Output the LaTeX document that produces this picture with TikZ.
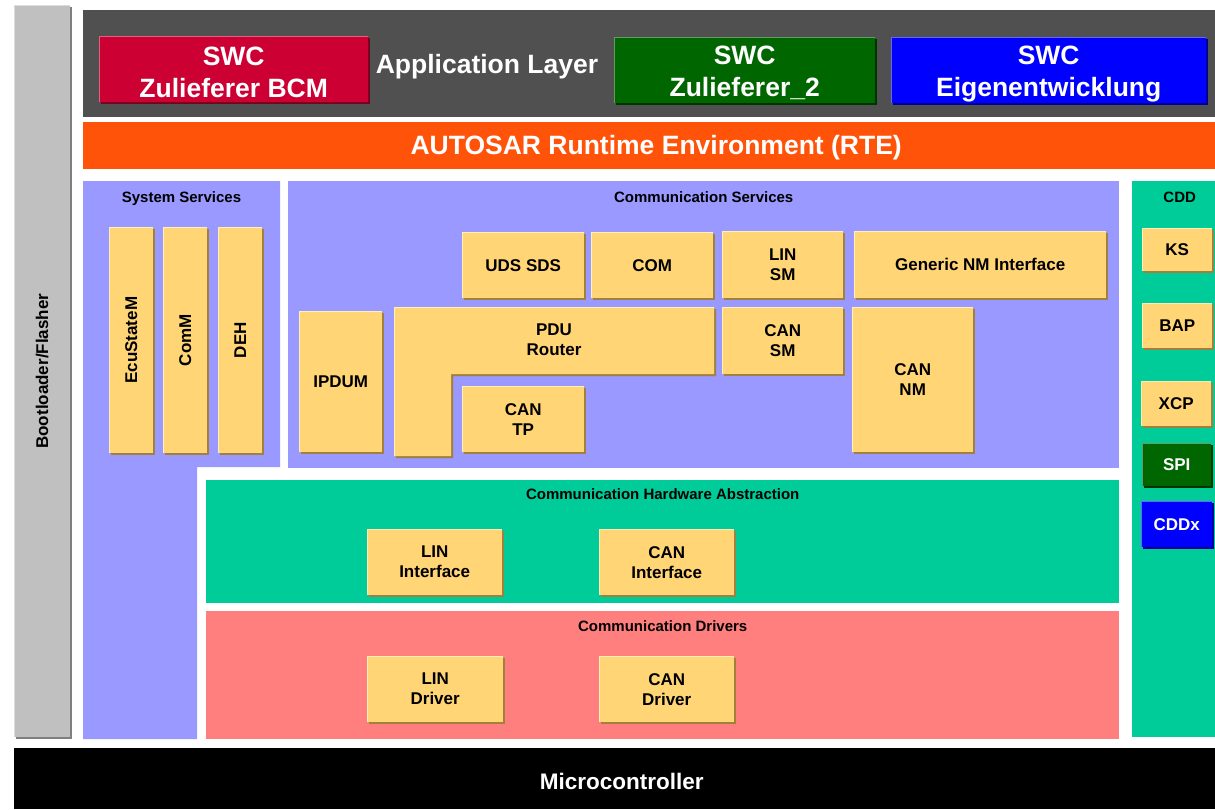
\documentclass[tikz,border=0pt]{standalone}
\usepackage{fontspec}
\setmainfont{Liberation Sans}
\usetikzlibrary{positioning, shadows}

\definecolor{appgray}{HTML}{505050}
\definecolor{bootgray}{HTML}{C0C0C0}
\definecolor{bootlight}{HTML}{DCDCDC}
\definecolor{bootdark}{HTML}{7F7F7F}
\definecolor{swcred}{HTML}{CC0033}
\definecolor{swcredlight}{HTML}{E0607F}
\definecolor{swcreddark}{HTML}{7A0020}
\definecolor{swcgreen}{HTML}{006600}
\definecolor{swcgreenlight}{HTML}{669966}
\definecolor{swcgreendark}{HTML}{003300}
\definecolor{swcblue}{HTML}{0000FF}
\definecolor{swcbluelight}{HTML}{6666FF}
\definecolor{swcbluedark}{HTML}{000099}
\definecolor{rteorange}{HTML}{FF530A}
\definecolor{servviolet}{HTML}{9999FF}
\definecolor{hwteal}{HTML}{00CC99}
\definecolor{drvred}{HTML}{FF7F7F}
\definecolor{modyellow}{HTML}{FFD576}
\definecolor{modlight}{HTML}{FFF0B8}
\definecolor{moddark}{HTML}{A0803C}

\newcommand{\bigsize}{\bfseries\fontsize{26.5}{32}\selectfont}
\newcommand{\modsize}{\bfseries\fontsize{17}{20}\selectfont}
\newcommand{\headsize}{\bfseries\fontsize{15}{18}\selectfont}
\newcommand{\microsize}{\bfseries\fontsize{22.5}{26}\selectfont}

\begin{document}
\begin{tikzpicture}[x=1pt, y=-1pt,
    raised/.style n args={3}{fill=#1,
      drop shadow={shadow xshift=2pt, shadow yshift=-2pt, fill=#3, opacity=1},
      path picture={\draw[#2, line width=2pt] (path picture bounding box.south west)
        -- (path picture bounding box.north west) -- (path picture bounding box.north east);}},
    layer/.style={inner sep=0pt, anchor=north west},
    module/.style={raised={modyellow}{modlight}{moddark}, font=\modsize, align=center,
      inner sep=0pt, anchor=north west},
    swc/.style={inner sep=0pt, anchor=north west},
    bigtext/.style={font=\bigsize, text=white, align=center, inner sep=0pt},
    header/.style={font=\headsize, inner sep=0pt}]

    \useasboundingbox (0,0) rectangle (1215,809);

    % Layers
    \node[layer, fill=appgray, minimum width=1132pt, minimum height=107pt] (applayer) at (83,10) {};
    \node[bigtext] (applabel) at (487,67) {Application Layer};
    \node[layer, fill=rteorange, minimum width=1132pt, minimum height=47pt] (rte) at (83,122) {};
    \node[bigtext] (rtelabel) at ([xshift=7pt, yshift=-2pt]rte.center) {AUTOSAR Runtime Environment (RTE)};
    \fill[servviolet] (83,181) -- (280,181) -- (280,467) -- (197,467) -- (197,739) -- (83,739) -- cycle;
    \coordinate (systop) at (181.5,181);
    \node[layer, fill=servviolet, minimum width=831pt, minimum height=287pt] (commserv) at (288,181) {};
    \node[layer, fill=hwteal, minimum width=83pt, minimum height=556pt] (cdd) at (1132,181) {};
    \node[layer, fill=hwteal, minimum width=913pt, minimum height=123pt] (commhw) at (206,480) {};
    \node[layer, fill=drvred, minimum width=913pt, minimum height=128pt] (commdrv) at (206,611) {};
    \node[layer, fill=black, minimum width=1201pt, minimum height=61pt] (micro) at (14,748) {};
    \node[font=\microsize, text=white, inner sep=0pt] (microlabel) at ([xshift=7pt, yshift=-3pt]micro.center) {Microcontroller};

    % Headers
    \node[header, below=10pt of systop] (syslabel) {System Services};
    \node[header, below=10pt of commserv.north] (commservlabel) {Communication Services};
    \node[header, below=11pt of cdd.north, xshift=6pt] (cddlabel) {CDD};
    \node[header, below=8pt of commhw.north] (commhwlabel) {Communication Hardware Abstraction};
    \node[header, below=9pt of commdrv.north] (commdrvlabel) {Communication Drivers};

    % Bootloader
    \node[raised={bootgray}{bootlight}{bootdark}, layer, minimum width=56pt, minimum height=732pt, font=\modsize] (boot) at (14,5) {\rotatebox{90}{Bootloader/Flasher}};

    % Software components
    \node[swc, raised={swcred}{swcredlight}{swcreddark}, minimum width=269pt, minimum height=66pt] (swcbcm) at (99,36) {};
    \node[bigtext] (swcbcmlabel) at ([yshift=-3pt]swcbcm.center) {SWC\\Zulieferer BCM};
    \node[swc, raised={swcgreen}{swcgreenlight}{swcgreendark}, minimum width=261pt, minimum height=66pt] (swczul) at (614,37) {};
    \node[bigtext, text depth=0pt] (swczullabel) at ([yshift=-1.5pt]swczul.center) {SWC\\Zulieferer\_2};
    \node[swc, raised={swcblue}{swcbluelight}{swcbluedark}, minimum width=315pt, minimum height=66pt] (swceigen) at (891,37) {};
    \node[bigtext] (swceigenlabel) at ([yshift=-4pt]swceigen.center) {SWC\\Eigenentwicklung};

    % System services
    \node[module, minimum width=44pt, minimum height=226pt] (ecustatem) at (109,227) {\rotatebox{90}{EcuStateM}};
    \node[module, minimum width=44pt, minimum height=226pt] (comm) at (163,227) {\rotatebox{90}{ComM}};
    \node[module, minimum width=44pt, minimum height=226pt] (deh) at (218,227) {\rotatebox{90}{DEH}};

    % Communication services
    \node[module, minimum width=122pt, minimum height=66pt] (udssds) at (462,232) {UDS SDS};
    \node[module, minimum width=122pt, minimum height=66pt] (com) at (591,232) {COM};
    \node[module, minimum width=121pt, minimum height=67pt] (linsm) at (722,231) {LIN\\SM};
    \node[module, minimum width=252pt, minimum height=67pt] (genericnm) at (854,231) {Generic NM Interface};
    \node[module, minimum width=83pt, minimum height=141pt] (ipdum) at (299,311) {IPDUM};
    \node[module, minimum width=121pt, minimum height=67pt] (cansm) at (722,307) {CAN\\SM};
    \node[module, minimum width=121pt, minimum height=145pt] (cannm) at (852,307) {CAN\\NM};
    \node[module, minimum width=122pt, minimum height=66pt] (cantp) at (462,386) {CAN\\TP};

    % PDU router
    \fill[moddark] (396,309) -- (716,309) -- (716,376) -- (453,376) -- (453,458) -- (396,458) -- cycle;
    \fill[modyellow] (394,307) -- (714,307) -- (714,374) -- (451,374) -- (451,456) -- (394,456) -- cycle;
    \draw[modlight, line width=1pt] (394.5,456) -- (394.5,307.5) -- (714,307.5);
    \node[font=\modsize, align=center] (pdurouter) at (554,340) {PDU\\Router};

    % Hardware abstraction and drivers
    \node[module, minimum width=135pt, minimum height=66pt] (lininterface) at (367,529) {LIN\\Interface};
    \node[module, minimum width=135pt, minimum height=66pt] (caninterface) at (599,529) {CAN\\Interface};
    \node[module, minimum width=136pt, minimum height=66pt] (lindriver) at (367,656) {LIN\\Driver};
    \node[module, minimum width=135pt, minimum height=66pt] (candriver) at (599,656) {CAN\\Driver};

    % Complex device drivers
    \node[module, minimum width=70pt, minimum height=43pt] (ks) at (1142,228) {KS};
    \node[module, minimum width=70pt, minimum height=45pt] (bap) at (1142,303) {BAP};
    \node[module, minimum width=70pt, minimum height=45pt] (xcp) at (1141,381) {XCP};
    \node[module, raised={swcgreen}{swcgreenlight}{swcgreendark}, text=white, minimum width=69pt, minimum height=43pt] (spi) at (1142,443) {SPI};
    \node[module, raised={swcblue}{swcbluelight}{swcbluedark}, text=white, minimum width=71pt, minimum height=46pt] (cddx) at (1141,501) {CDDx};
\end{tikzpicture}
\end{document}
